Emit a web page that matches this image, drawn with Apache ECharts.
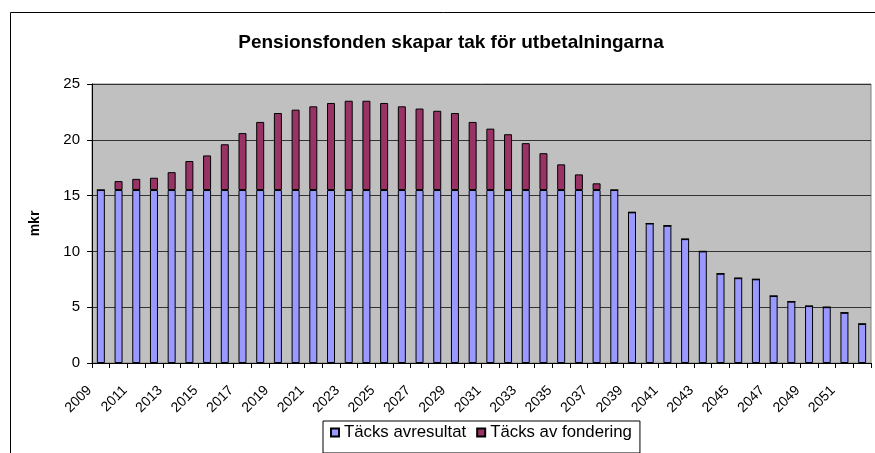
<!DOCTYPE html>
<html>
<head>
<meta charset="utf-8">
<script src="https://cdn.jsdelivr.net/npm/echarts@6/dist/echarts.min.js"></script>
<style>
html,body{margin:0;padding:0;background:#fff;}
#chart{width:875px;height:453px;}
</style>
</head>
<body>
<div id="chart"></div>
<script>
var years = [];
for (var y = 2009; y <= 2052; y++) years.push(String(y));

var tacksResultat = [15.5,15.5,15.5,15.5,15.5,15.5,15.5,15.5,15.5,15.5,
  15.5,15.5,15.5,15.5,15.5,15.5,15.5,15.5,15.5,15.5,
  15.5,15.5,15.5,15.5,15.5,15.5,15.5,15.5,15.5,15.5,
  13.5,12.5,12.3,11.1,10.0,8.0,7.6,7.5,6.0,5.5,5.1,5.0,4.5,3.5];

var tacksFondering = [0,0.8,1.0,1.1,1.6,2.6,3.1,4.1,5.1,6.1,
  6.9,7.2,7.5,7.8,8.0,8.0,7.8,7.5,7.3,7.1,
  6.9,6.1,5.5,5.0,4.2,3.3,2.3,1.4,0.6,0,
  0,0,0,0,0,0,0,0,0,0,0,0,0,0];

var yTicks = [0,5,10,15,20,25];

var FONT = 'Arial, "Liberation Sans", sans-serif';
var chart = echarts.init(document.getElementById('chart'), null, {renderer:'canvas'});
chart.setOption({
  animation: false,
  backgroundColor: '#ffffff',
  title: {
    text: 'Pensionsfonden skapar tak för utbetalningarna',
    left: 446, top: 28, textAlign: 'center',
    textStyle: {fontFamily: FONT, fontSize: 19, fontWeight: 'bold', color: '#000'}
  },
  graphic: [{
    type: 'rect', silent: true, z: -1,
    shape: {x: 10.5, y: 12.5, width: 900, height: 500},
    style: {fill: 'none', stroke: '#000', lineWidth: 1}
  }],
  legend: {
    left: 323, top: 421,
    itemWidth: 8, itemHeight: 8, itemGap: 10,
    padding: [3, 8, 12, 7],
    borderColor: '#000', borderWidth: 1,
    icon: 'rect',
    textStyle: {fontFamily: FONT, fontSize: 16.8, color: '#000'},
    data: ['Täcks avresultat', 'Täcks av fondering']
  },
  grid: {
    left: 92, right: 4, top: 84, bottom: 90,
    show: true, backgroundColor: '#C0C0C0', borderColor: '#808080', borderWidth: 1
  },
  xAxis: {
    type: 'category', data: years, boundaryGap: true,
    axisLine: {lineStyle: {color: '#000', width: 1}},
    axisTick: {show: true, interval: 0, length: 5, lineStyle: {color: '#000'}},
    axisLabel: {interval: 1, rotate: 45, fontFamily: FONT, fontSize: 14, color: '#000',
      margin: 14, padding: [0, 16, 0, 0]},
    splitLine: {show: false}
  },
  yAxis: {
    type: 'value', min: yTicks[0], max: yTicks[yTicks.length-1], interval: 5,
    name: 'mkr', nameLocation: 'middle', nameGap: 50, nameRotate: 90,
    nameTextStyle: {fontFamily: FONT, fontSize: 14, fontWeight: 'bold', color: '#000'},
    axisLine: {show: true, lineStyle: {color: '#000', width: 1}},
    axisTick: {show: true, length: 5, lineStyle: {color: '#000'}},
    axisLabel: {fontFamily: FONT, fontSize: 15, color: '#000', margin: 12},
    splitLine: {show: true, lineStyle: {color: '#333', width: 1}}
  },
  series: [{
    name: 'Täcks avresultat', type: 'bar', stack: 'total', barWidth: 8,
    data: tacksResultat,
    itemStyle: {color: '#9999FF', borderColor: '#000', borderWidth: 1}
  }, {
    name: 'Täcks av fondering', type: 'bar', stack: 'total', barWidth: 8,
    data: tacksFondering,
    itemStyle: {color: '#993366', borderColor: '#000', borderWidth: 1}
  }]
});
</script>
</body>
</html>
